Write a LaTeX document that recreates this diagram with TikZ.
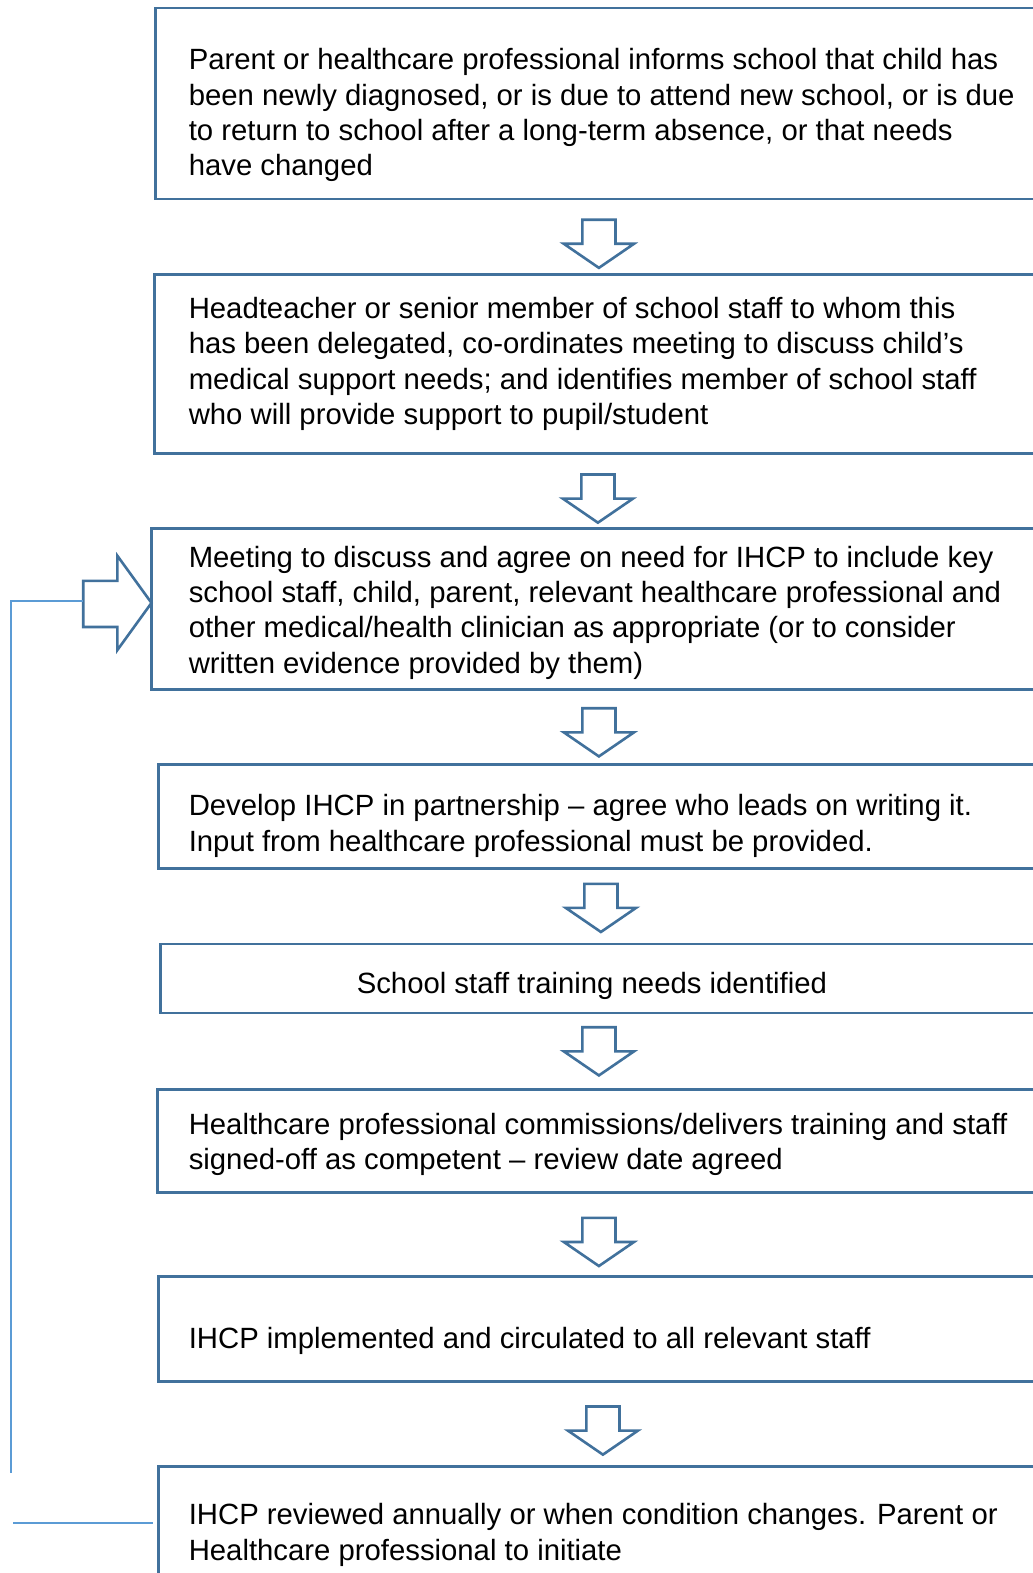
\documentclass[tikz,border=0pt]{standalone}
\usepackage{fontspec}
\setmainfont{Liberation Sans}
\definecolor{boxblue}{RGB}{65,113,156}
\definecolor{lineblue}{RGB}{91,155,213}
\begin{document}
\begin{tikzpicture}[x=1.0032pt,y=-1.0032pt,
  stepbox/.style={draw=boxblue,line width=2.9pt,inner sep=0pt,outer sep=0pt,anchor=north west,minimum width=960pt},
  txt/.style={inner sep=0pt,anchor=west,align=left,font=\fontsize{29.3}{35.3}\selectfont},
  ctxt/.style={inner sep=0pt,align=center,font=\fontsize{29.3}{35.3}\selectfont},
  arr/.style={draw=boxblue,line width=2.6pt,fill=white,line join=miter},
  fb/.style={draw=lineblue,line width=1.4pt},
  downarr/.pic={\path[arr] (-16.5,0) -- (16.5,0) -- (16.5,24) -- (35,24) -- (0,48) -- (-35,24) -- (-16.5,24) -- cycle;}
]
\useasboundingbox (0,0) rectangle (1029.7,1568);
\clip (0,0) rectangle (1029.7,1568);
\fill[white] (0,0) rectangle (1029.7,1568);

\node[stepbox,minimum height=191pt] (b1) at (155,8) {};
\node[stepbox,minimum height=179pt] (b2) at (154,274) {};
\node[stepbox,minimum height=161pt] (b3) at (151,527) {};
\node[stepbox,minimum height=104pt] (b4) at (158,762) {};
\node[stepbox,minimum height=69pt] (b5) at (160,941) {};
\node[stepbox,minimum height=103pt] (b6) at (157,1086) {};
\node[stepbox,minimum height=105pt] (b7) at (158,1272) {};
\node[stepbox,minimum height=160pt] (b8) at (158,1462) {};

\node[txt] (t1) at (188,114.8) {Parent or healthcare professional informs school that child has\\been newly diagnosed, or is due to attend new school, or is due\\to return to school after a long-term absence, or that needs\\have changed};
\node[txt] (t2) at (188,362.8) {Headteacher or senior member of school staff to whom this\\has been delegated, co-ordinates meeting to discuss child’s\\medical support needs; and identifies member of school staff\\who will provide support to pupil/student};
\node[txt] (t3) at (188,610.8) {Meeting to discuss and agree on need for IHCP to include key\\school staff, child, parent, relevant healthcare professional and\\other medical/health clinician as appropriate (or to consider\\written evidence provided by them)};
\node[txt] (t4) at (188,823.2) {Develop IHCP in partnership – agree who leads on writing it.\\Input from healthcare professional must be provided.};
\node[ctxt] (t5) at (590,982.5) {School staff training needs identified};
\node[txt] (t6) at (188,1141) {Healthcare professional commissions/delivers training and staff\\signed-off as competent – review date agreed};
\node[txt] (t7) at (188,1336.5) {IHCP implemented and circulated to all relevant staff};
\node[txt] (t8) at (188,1530) {IHCP reviewed annually or when condition changes. Parent or\\Healthcare professional to initiate};

\pic at (597,219) {downarr};
\pic at (596,473) {downarr};
\pic at (597,706) {downarr};
\pic at (599,881) {downarr};
\pic at (597,1024) {downarr};
\pic at (597,1214) {downarr};
\pic at (601,1402) {downarr};

% feedback arrow into box 3
\path[arr] (83,579) -- (117,579) -- (117,554) -- (151,601) -- (117,648) -- (117,625) -- (83,625) -- cycle;
\coordinate (fa) at (83,599);
\coordinate (fc) at (11,599);
\coordinate (fd) at (11,1468);
\coordinate (fe) at (13,1518);
\coordinate (ff) at (153,1518);
\draw[fb] (fa) -- (fc) -- (fd);
\draw[fb] (fe) -- (ff);
\end{tikzpicture}
\end{document}
